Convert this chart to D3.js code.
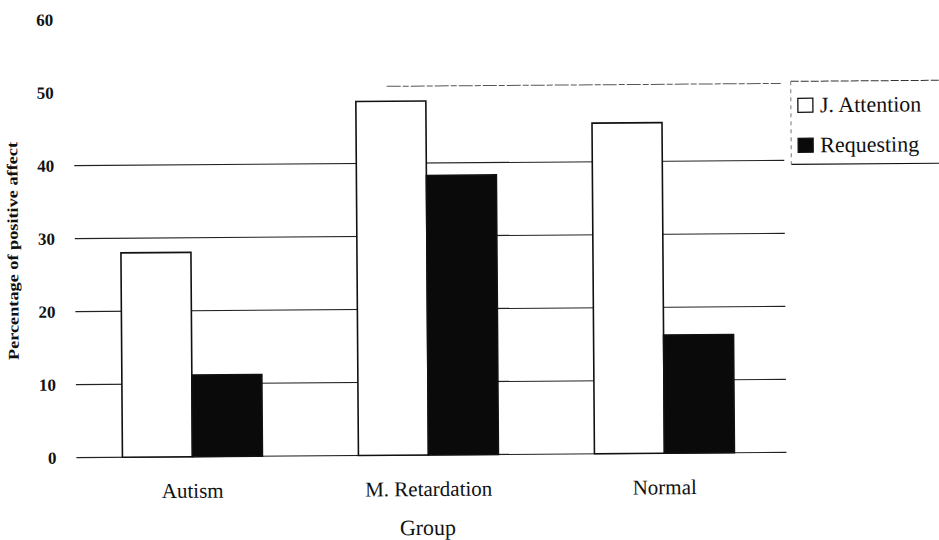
<!DOCTYPE html>
<html>
<head>
<meta charset="utf-8">
<script src="https://cdn.jsdelivr.net/npm/d3@7"></script>
<style>
  html, body { margin: 0; padding: 0; background: #fff; }
  svg { display: block; }
  text { font-family: "Liberation Serif", "Times New Roman", serif; fill: #111; }
</style>
</head>
<body>
<svg id="chart" width="939" height="540"></svg>
<script>
// Groups and percentage of positive affect per communication type
const groups = ["Autism", "M. Retardation", "Normal"];
const seriesNames = ["J. Attention", "Requesting"];
const jointAttention = [28.0, 48.5, 45.3];
const requesting = [11.2, 38.3, 16.2];
const yTicks = [0, 10, 20, 30, 40, 50, 60];
const yTitle = "Percentage of positive affect";
const xTitle = "Group";

const seriesValues = [jointAttention, requesting];
const fills = ["#ffffff", "#0a0a0a"];

const svg = d3.select("#chart");
// the page is slightly tilted, as printed
const g = svg.append("g").attr("transform", "rotate(-0.42, 430, 260)");

const x = d3.scaleBand().domain(groups).range([73, 781]).padding(0);
const xInner = d3.scaleBand().domain(seriesNames)
  .range([48, x.bandwidth() - 48]).padding(0);
const y = d3.scaleLinear().domain([0, 60]).range([455, 17]);

// horizontal gridlines
const grid = g.append("g");
yTicks.filter(t => t <= 40).forEach(t => {
  grid.append("line")
    .attr("x1", 75).attr("x2", 785)
    .attr("y1", y(t)).attr("y2", y(t))
    .attr("stroke", "#222").attr("stroke-width", 1.1);
});
// faint, broken top rule
grid.append("line")
  .attr("x1", 388).attr("x2", 782)
  .attr("y1", y(50) - 4).attr("y2", y(50) - 4)
  .attr("stroke", "#555").attr("stroke-width", 1)
  .attr("stroke-dasharray", "14,2,6,2");

// y axis tick labels
const yAxis = d3.axisLeft(y).tickValues(yTicks).tickSize(0).tickPadding(0);
const ya = g.append("g").attr("transform", "translate(55,0)").call(yAxis);
ya.select(".domain").remove();
ya.selectAll("text")
  .attr("font-family", "Liberation Serif, serif")
  .attr("font-size", 17).attr("font-weight", "bold").attr("fill", "#111");

// bars
const groupG = g.selectAll(".grp").data(groups).enter().append("g")
  .attr("class", "grp")
  .attr("transform", d => `translate(${x(d)},0)`);
groupG.each(function(grp, gi) {
  d3.select(this).selectAll("rect")
    .data(seriesNames.map((s, si) => ({ s, v: seriesValues[si][gi], si })))
    .enter().append("rect")
    .attr("x", d => xInner(d.s))
    .attr("width", xInner.bandwidth())
    .attr("y", d => y(d.v))
    .attr("height", d => y(0) - y(d.v))
    .attr("fill", d => fills[d.si])
    .attr("stroke", "#111").attr("stroke-width", 1.6);
});

// category labels
const xAxis = d3.axisBottom(x).tickSize(0).tickPadding(0);
const xa = g.append("g").attr("transform", `translate(0,${y(0) + 41})`).call(xAxis);
xa.select(".domain").remove();
xa.selectAll("text")
  .attr("font-family", "Liberation Serif, serif")
  .attr("font-size", 21).attr("fill", "#111").attr("dy", 0);

// axis titles
g.append("text")
  .attr("x", 426).attr("y", 535)
  .attr("text-anchor", "middle").attr("font-size", 22)
  .text(xTitle);
g.append("text")
  .attr("transform", "translate(18,248) rotate(-90)")
  .attr("text-anchor", "middle").attr("font-size", 15).attr("font-weight", "bold")
  .attr("textLength", 218).attr("lengthAdjust", "spacingAndGlyphs")
  .text(yTitle);

// legend
const leg = g.append("g").attr("transform", "translate(792,84)");
leg.append("line").attr("x1", 0).attr("x2", 160).attr("y1", 0).attr("y2", 0)
  .attr("stroke", "#333").attr("stroke-dasharray", "8,2");
leg.append("line").attr("x1", 0).attr("x2", 160).attr("y1", 83).attr("y2", 83)
  .attr("stroke", "#111").attr("stroke-width", 1.2);
leg.append("line").attr("x1", 0).attr("x2", 0).attr("y1", 0).attr("y2", 83)
  .attr("stroke", "#777").attr("stroke-dasharray", "4,4");
seriesNames.forEach((s, i) => {
  const row = leg.append("g").attr("transform", `translate(0,${31 + i * 40})`);
  row.append("rect").attr("x", 7).attr("y", -14).attr("width", 15).attr("height", 14)
    .attr("fill", fills[i]).attr("stroke", "#111").attr("stroke-width", 1.3);
  row.append("text").attr("x", 29).attr("y", 0).attr("font-size", 22).text(s);
});
</script>
</body>
</html>
